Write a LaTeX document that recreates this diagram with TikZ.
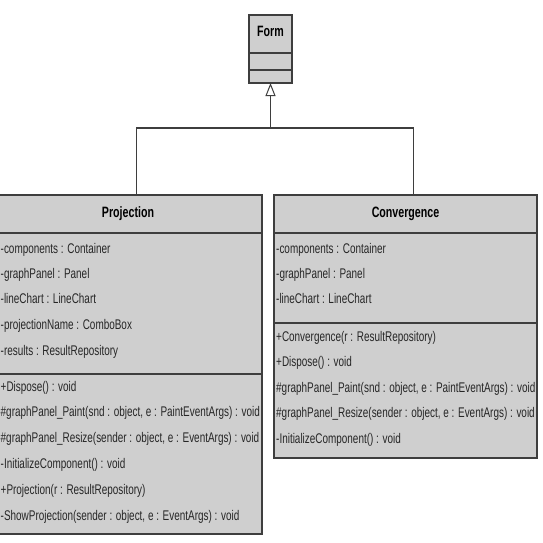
\documentclass[tikz,border=0pt]{standalone}
\usepackage{fontspec}
\setmainfont{Liberation Sans}[FakeStretch=0.71]
\usetikzlibrary{arrows.meta}
\definecolor{umlfill}{RGB}{207,207,207}
\definecolor{umlline}{RGB}{62,62,62}
\begin{document}
\begin{tikzpicture}[x=1pt,y=-1pt,
  cls/.style={draw=umlline, line width=2pt, fill=umlfill, inner sep=0pt, outer sep=0pt},
  sepline/.style={draw=umlline, line width=2pt},
  mem/.style={anchor=west, inner sep=0pt, text=black!85, font=\fontsize{14}{14}\selectfont, text height=10pt, text depth=0pt},
  hdr/.style={inner sep=0pt, text=black, font=\fontsize{15}{15}\selectfont\bfseries, text height=11pt, text depth=0pt},
  conn/.style={draw=umlline, line width=1pt},
  bar/.style={draw=umlline, line width=2pt}]
\fill[white] (0,0) rectangle (543,542);
\useasboundingbox (0,0) rectangle (543,542);

% Form
\node[cls, minimum width=43pt, minimum height=68pt] (form) at (270.5,49) {};
\draw[sepline] (249,52.7) -- (292,52.7);
\draw[sepline] (249,70) -- (292,70);
\node[hdr] (formname) at (270.5,31) {Form};

% Projection
\node[cls, minimum width=268pt, minimum height=339pt] (proj) at (128,364.5) {};
\draw[sepline] (-6,232.7) -- (262,232.7);
\draw[sepline] (-6,374.3) -- (262,374.3);
\node[hdr] (projname) at (128,212) {Projection};
\begin{scope}
\clip (-6,196) rectangle (261,533);
\node[mem] (pa1) at (0.5,248) {-components : Container};
\node[mem] (pa2) at (0.5,273) {-graphPanel : Panel};
\node[mem] (pa3) at (0.5,298) {-lineChart : LineChart};
\node[mem] (pa4) at (0.5,324) {-projectionName : ComboBox};
\node[mem] (pa5) at (0.5,350) {-results : ResultRepository};
\node[mem] (pm1) at (0.5,386) {+Dispose() : void};
\node[mem] (pm2) at (0.5,411.5) {\#graphPanel\_Paint(snd : object, e : PaintEventArgs) : void};
\node[mem] (pm3) at (0.5,437.5) {\#graphPanel\_Resize(sender : object, e : EventArgs) : void};
\node[mem] (pm4) at (0.5,463.5) {-InitializeComponent() : void};
\node[mem] (pm5) at (0.5,489.5) {+Projection(r : ResultRepository)};
\node[mem] (pm6) at (0.5,515.5) {-ShowProjection(sender : object, e : EventArgs) : void};
\end{scope}

% Convergence
\node[cls, minimum width=263pt, minimum height=263pt] (conv) at (405.5,326.5) {};
\draw[sepline] (274,232.7) -- (537,232.7);
\draw[sepline] (274,322.7) -- (537,322.7);
\node[hdr] (convname) at (405.5,212) {Convergence};
\begin{scope}
\clip (275,196) rectangle (536,457);
\node[mem] (ca1) at (276,248) {-components : Container};
\node[mem] (ca2) at (276,273) {-graphPanel : Panel};
\node[mem] (ca3) at (276,298) {-lineChart : LineChart};
\node[mem] (cm1) at (276,336) {+Convergence(r : ResultRepository)};
\node[mem] (cm2) at (276,361.5) {+Dispose() : void};
\node[mem] (cm3) at (276,387) {\#graphPanel\_Paint(snd : object, e : PaintEventArgs) : void};
\node[mem] (cm4) at (276,412.5) {\#graphPanel\_Resize(sender : object, e : EventArgs) : void};
\node[mem] (cm5) at (276,438) {-InitializeComponent() : void};
\end{scope}

% Generalization
\coordinate (jl) at (136.5,128);
\coordinate (jr) at (413.3,128);
\coordinate (jm) at (270.5,128);
\draw[conn] (jl) -- (jl |- proj.north);
\draw[conn] (jr) -- (jr |- conv.north);
\draw[bar] ([xshift=-0.5pt]jl) -- ([xshift=0.5pt]jr);
\draw[conn, -{Triangle[open, width=10pt, length=13pt, line width=1pt]}] (jm) -- (form.south);
\end{tikzpicture}
\end{document}
